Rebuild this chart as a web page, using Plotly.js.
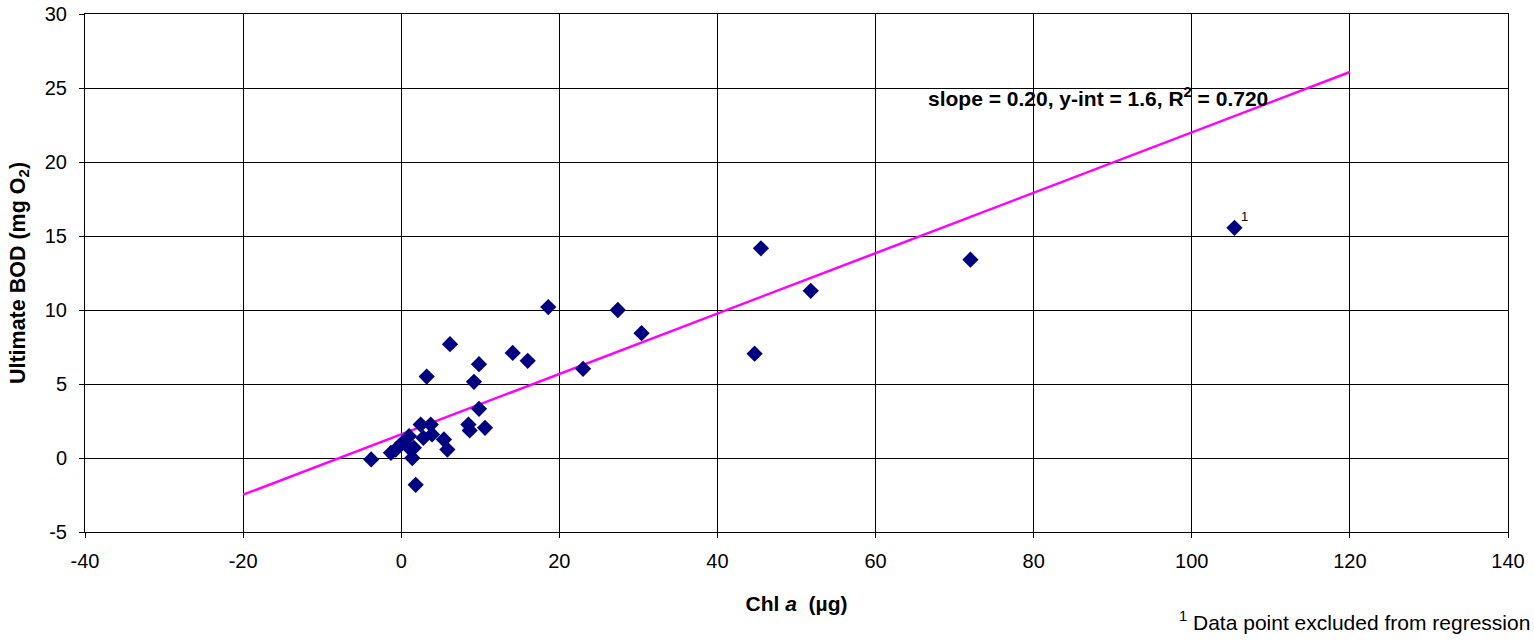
<!DOCTYPE html>
<html>
<head>
<meta charset="utf-8">
<script src="https://cdn.plot.ly/plotly-3.0.1.min.js"></script>
<style>
  html, body { margin: 0; padding: 0; background: #fff; }
  #chart { width: 1534px; height: 644px; }
</style>
</head>
<body>
<div id="chart"></div>
<script>
// Chlorophyll a vs ultimate BOD, samples used in the fit
const chlA = [-3.8, -1.3, -0.7, 0.15, 0.99, 0.99, 1.4, 1.6, 1.83, 2.46, 3.73, 2.8, 3.9, 3.22,
              5.4, 5.84, 6.17, 8.5, 8.66, 9.2, 9.84, 9.84, 10.6, 14.1, 16.0, 18.6, 23.0,
              27.4, 30.4, 44.7, 45.5, 51.8, 72.0];
const ultBOD = [-0.1, 0.35, 0.57, 1.03, 1.47, 0.69, 0.0, 0.69, -1.81, 2.26, 2.26, 1.36, 1.59, 5.5,
                1.25, 0.57, 7.69, 2.26, 1.86, 5.15, 6.34, 3.32, 2.04, 7.1, 6.57, 10.2, 6.03,
                10.0, 8.43, 7.05, 14.17, 11.3, 13.4];

// Sample left out of the regression
const excludedChlA = [105.4];
const excludedBOD = [15.55];

// Regression fit and the range it is drawn over
const fitSlope = 0.204;
const fitIntercept = 1.6;
const fitR2 = 0.720;
const fitRange = [-20, 120];

const xTicks = [-40, -20, 0, 20, 40, 60, 80, 100, 120, 140];
const yTicks = [-5, 0, 5, 10, 15, 20, 25, 30];

const fitX = fitRange.slice();
const fitY = fitX.map(x => fitSlope * x + fitIntercept);

const font = 'Arial, "Liberation Sans", sans-serif';
const navy = '#000080';

const traces = [
  {
    x: fitX, y: fitY, type: 'scatter', mode: 'lines',
    line: { color: '#FF00FF', width: 2.5 }, hoverinfo: 'skip'
  },
  {
    x: chlA, y: ultBOD, type: 'scatter', mode: 'markers',
    marker: { symbol: 'diamond', size: 12.5, color: navy }
  },
  {
    x: excludedChlA, y: excludedBOD, type: 'scatter', mode: 'markers',
    marker: { symbol: 'diamond', size: 12.5, color: navy }
  }
];

const layout = {
  width: 1534, height: 644,
  margin: { l: 85, r: 26, t: 14, b: 112 },
  paper_bgcolor: '#fff', plot_bgcolor: '#fff',
  showlegend: false,
  font: { family: font, size: 20, color: '#000' },
  xaxis: {
    range: [-40, 140], tickvals: xTicks, ticktext: xTicks.map(String),
    showgrid: true, gridcolor: '#000', gridwidth: 1,
    zeroline: false, showline: true, linecolor: '#000', linewidth: 1, mirror: true,
    ticks: 'outside', ticklen: 5, tickcolor: '#000',
    ticklabelstandoff: 6,
    tickfont: { family: font, size: 20 },
    title: { text: '<b>Chl <i>a</i>  (µg)</b>', font: { family: font, size: 21 }, standoff: 25 }
  },
  yaxis: {
    range: [-5, 30], tickvals: yTicks, ticktext: yTicks.map(String),
    showgrid: true, gridcolor: '#000', gridwidth: 1,
    zeroline: false, showline: true, linecolor: '#000', linewidth: 1, mirror: true,
    ticks: 'outside', ticklen: 5, tickcolor: '#000',
    ticklabelstandoff: 8,
    tickfont: { family: font, size: 20 },
    title: { text: '<b>Ultimate BOD (mg O<sub>2</sub>)</b>', font: { family: font, size: 21.5 }, standoff: 13 }
  },
  annotations: [
    {
      x: 66.4, y: 24.4, xref: 'x', yref: 'y', xanchor: 'left', yanchor: 'middle',
      showarrow: false,
      text: '<b>slope = ' + fitSlope.toFixed(2) + ', y-int = ' + fitIntercept.toFixed(1) +
            ', R<sup>2</sup> = ' + fitR2.toFixed(3) + '</b>',
      font: { family: font, size: 21, color: '#000' }
    },
    {
      x: excludedChlA[0], y: excludedBOD[0], xref: 'x', yref: 'y',
      xanchor: 'left', yanchor: 'bottom', xshift: 5, yshift: 2,
      showarrow: false, text: '1',
      font: { family: font, size: 13, color: '#000' }
    },
    {
      x: 1, y: 0, xref: 'paper', yref: 'paper', xanchor: 'right', yanchor: 'top',
      xshift: 24, yshift: -74, showarrow: false,
      text: '<sup>1</sup> Data point excluded from regression',
      font: { family: font, size: 21, color: '#000' }
    }
  ]
};

Plotly.newPlot('chart', traces, layout, { staticPlot: true, displayModeBar: false });
</script>
</body>
</html>
